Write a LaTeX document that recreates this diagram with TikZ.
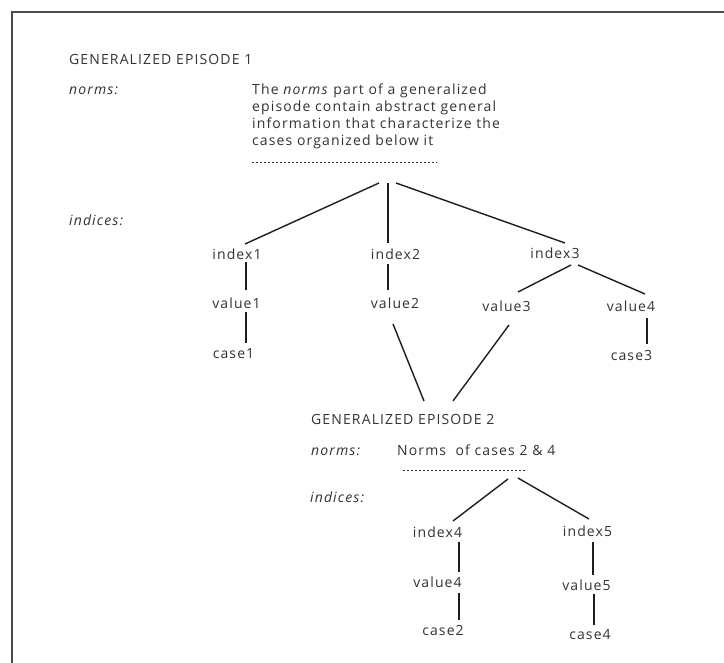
\documentclass[tikz,border=0pt]{standalone}
\usepackage{fontspec}
\setmainfont{Open Sans}[LetterSpace=8]
\usetikzlibrary{calc}
\definecolor{ink}{HTML}{333333}
\definecolor{wire}{HTML}{1E1E1E}
\begin{document}
\begin{tikzpicture}[x=1pt,y=-1pt,
  every node/.style={inner sep=0pt, text=ink, font=\fontsize{14}{17}\selectfont},
  lbl/.style={anchor=base},
  head/.style={anchor=base west},
  side/.style={anchor=base west, font=\fontsize{14}{17}\selectfont\itshape},
  link/.style={draw=wire, line width=1.4pt},
  rule/.style={draw=ink, line width=0.7pt, dash pattern=on 2.4pt off 1.6pt},
  frame/.style={draw=wire!80, line width=1.6pt}]

\useasboundingbox (0,0) rectangle (724,663);
\fill[white] (0,0) rectangle (724,663);

% open frame: top and left edges only
\draw[frame] (724,12) -- (12,12) -- (12,663);

% ---- generalized episode 1 ----
\node[head] (ge1) at (69,64.5) {GENERALIZED EPISODE 1};
\node[side] (norms1) at (69,94.5) {norms:};
\node[anchor=north west, align=left] (para) at (252,84)
  {The \textit{norms} part of a generalized\\
   episode contain abstract general\\
   information that characterize the\\
   cases organized below it};
\draw[rule] (252,162) -- (437,162);
\node[side] (indices1) at (69,226) {indices:};

\coordinate (apex) at (388,183);

\node[lbl] (index1) at (237,259.5) {index1};
\node[lbl] (index2) at (395.5,259.5) {index2};
\node[lbl] (index3) at (555,258.5) {index3};
\node[lbl] (value1) at (236.5,308.5) {value1};
\node[lbl] (value2) at (395,308.5) {value2};
\node[lbl] (value3) at (506.5,311.5) {value3};
\node[lbl] (value4t) at (631,311.5) {value4};
\node[lbl] (case1) at (233.5,359) {case1};
\node[lbl] (case3) at (631.5,361) {case3};

\draw[link] ($(apex)+(-9,0)$) -- ($(index1.base)+(8,-15.5)$);
\draw[link] (apex) -- ($(index2.base)+(-7.5,-16.5)$);
\draw[link] ($(apex)+(8,0)$) -- ($(index3.base)+(10,-15.5)$);
\draw[link] ($(index1.base)+(9,2.5)$) -- ($(value1.base)+(9.5,-18.5)$);
\draw[link] ($(value1.base)+(9.5,3.5)$) -- ($(case1.base)+(12.5,-16)$);
\draw[link] ($(index2.base)+(-7.5,4.5)$) -- ($(value2.base)+(-7,-18.5)$);
\draw[link] ($(index3.base)+(16,6.5)$) -- ($(value3.base)+(11.5,-19.5)$);
\draw[link] ($(index3.base)+(23,6.5)$) -- ($(value4t.base)+(14,-17.5)$);
\draw[link] ($(value4t.base)+(16,6.5)$) -- ($(case3.base)+(15.5,-17)$);

% ---- generalized episode 2 ----
\node[head] (ge2) at (311,424.5) {GENERALIZED EPISODE 2};
\node[side] (norms2) at (311,455.5) {norms:};
\node[head] (normtext) at (397,455.5) {Norms\ \ of cases 2 \& 4};
\draw[rule] (403,470) -- (527,470);
\node[side] (indices2) at (310,503) {indices:};

\draw[link] ($(value2.base)+(-2,15.5)$) -- ($(ge2.base west)+(113,-23.5)$);
\draw[link] ($(value3.base)+(2.5,13.5)$) -- ($(ge2.base west)+(142,-23.5)$);

\coordinate (apex2) at (513,479);

\node[lbl] (index4) at (437.5,537.5) {index4};
\node[lbl] (index5) at (587.5,536.5) {index5};
\node[lbl] (value4b) at (437.5,587.5) {value4};
\node[lbl] (value5) at (586.5,590.5) {value5};
\node[lbl] (case2) at (443,635) {case2};
\node[lbl] (case4) at (590,639) {case4};

\draw[link] ($(apex2)+(-5,0)$) -- ($(index4.base)+(15.5,-16.5)$);
\draw[link] ($(apex2)+(5,-1)$) -- ($(index5.base)+(1.5,-17.5)$);
\draw[link] ($(index4.base)+(21.5,4.5)$) -- ($(value4b.base)+(21.5,-15.5)$);
\draw[link] ($(value4b.base)+(21.5,5.5)$) -- ($(case2.base)+(16,-15)$);
\draw[link] ($(index5.base)+(5.5,5.5)$) -- ($(value5.base)+(6.5,-15.5)$);
\draw[link] ($(value5.base)+(7.5,3.5)$) -- ($(case4.base)+(4,-14)$);
\end{tikzpicture}
\end{document}
